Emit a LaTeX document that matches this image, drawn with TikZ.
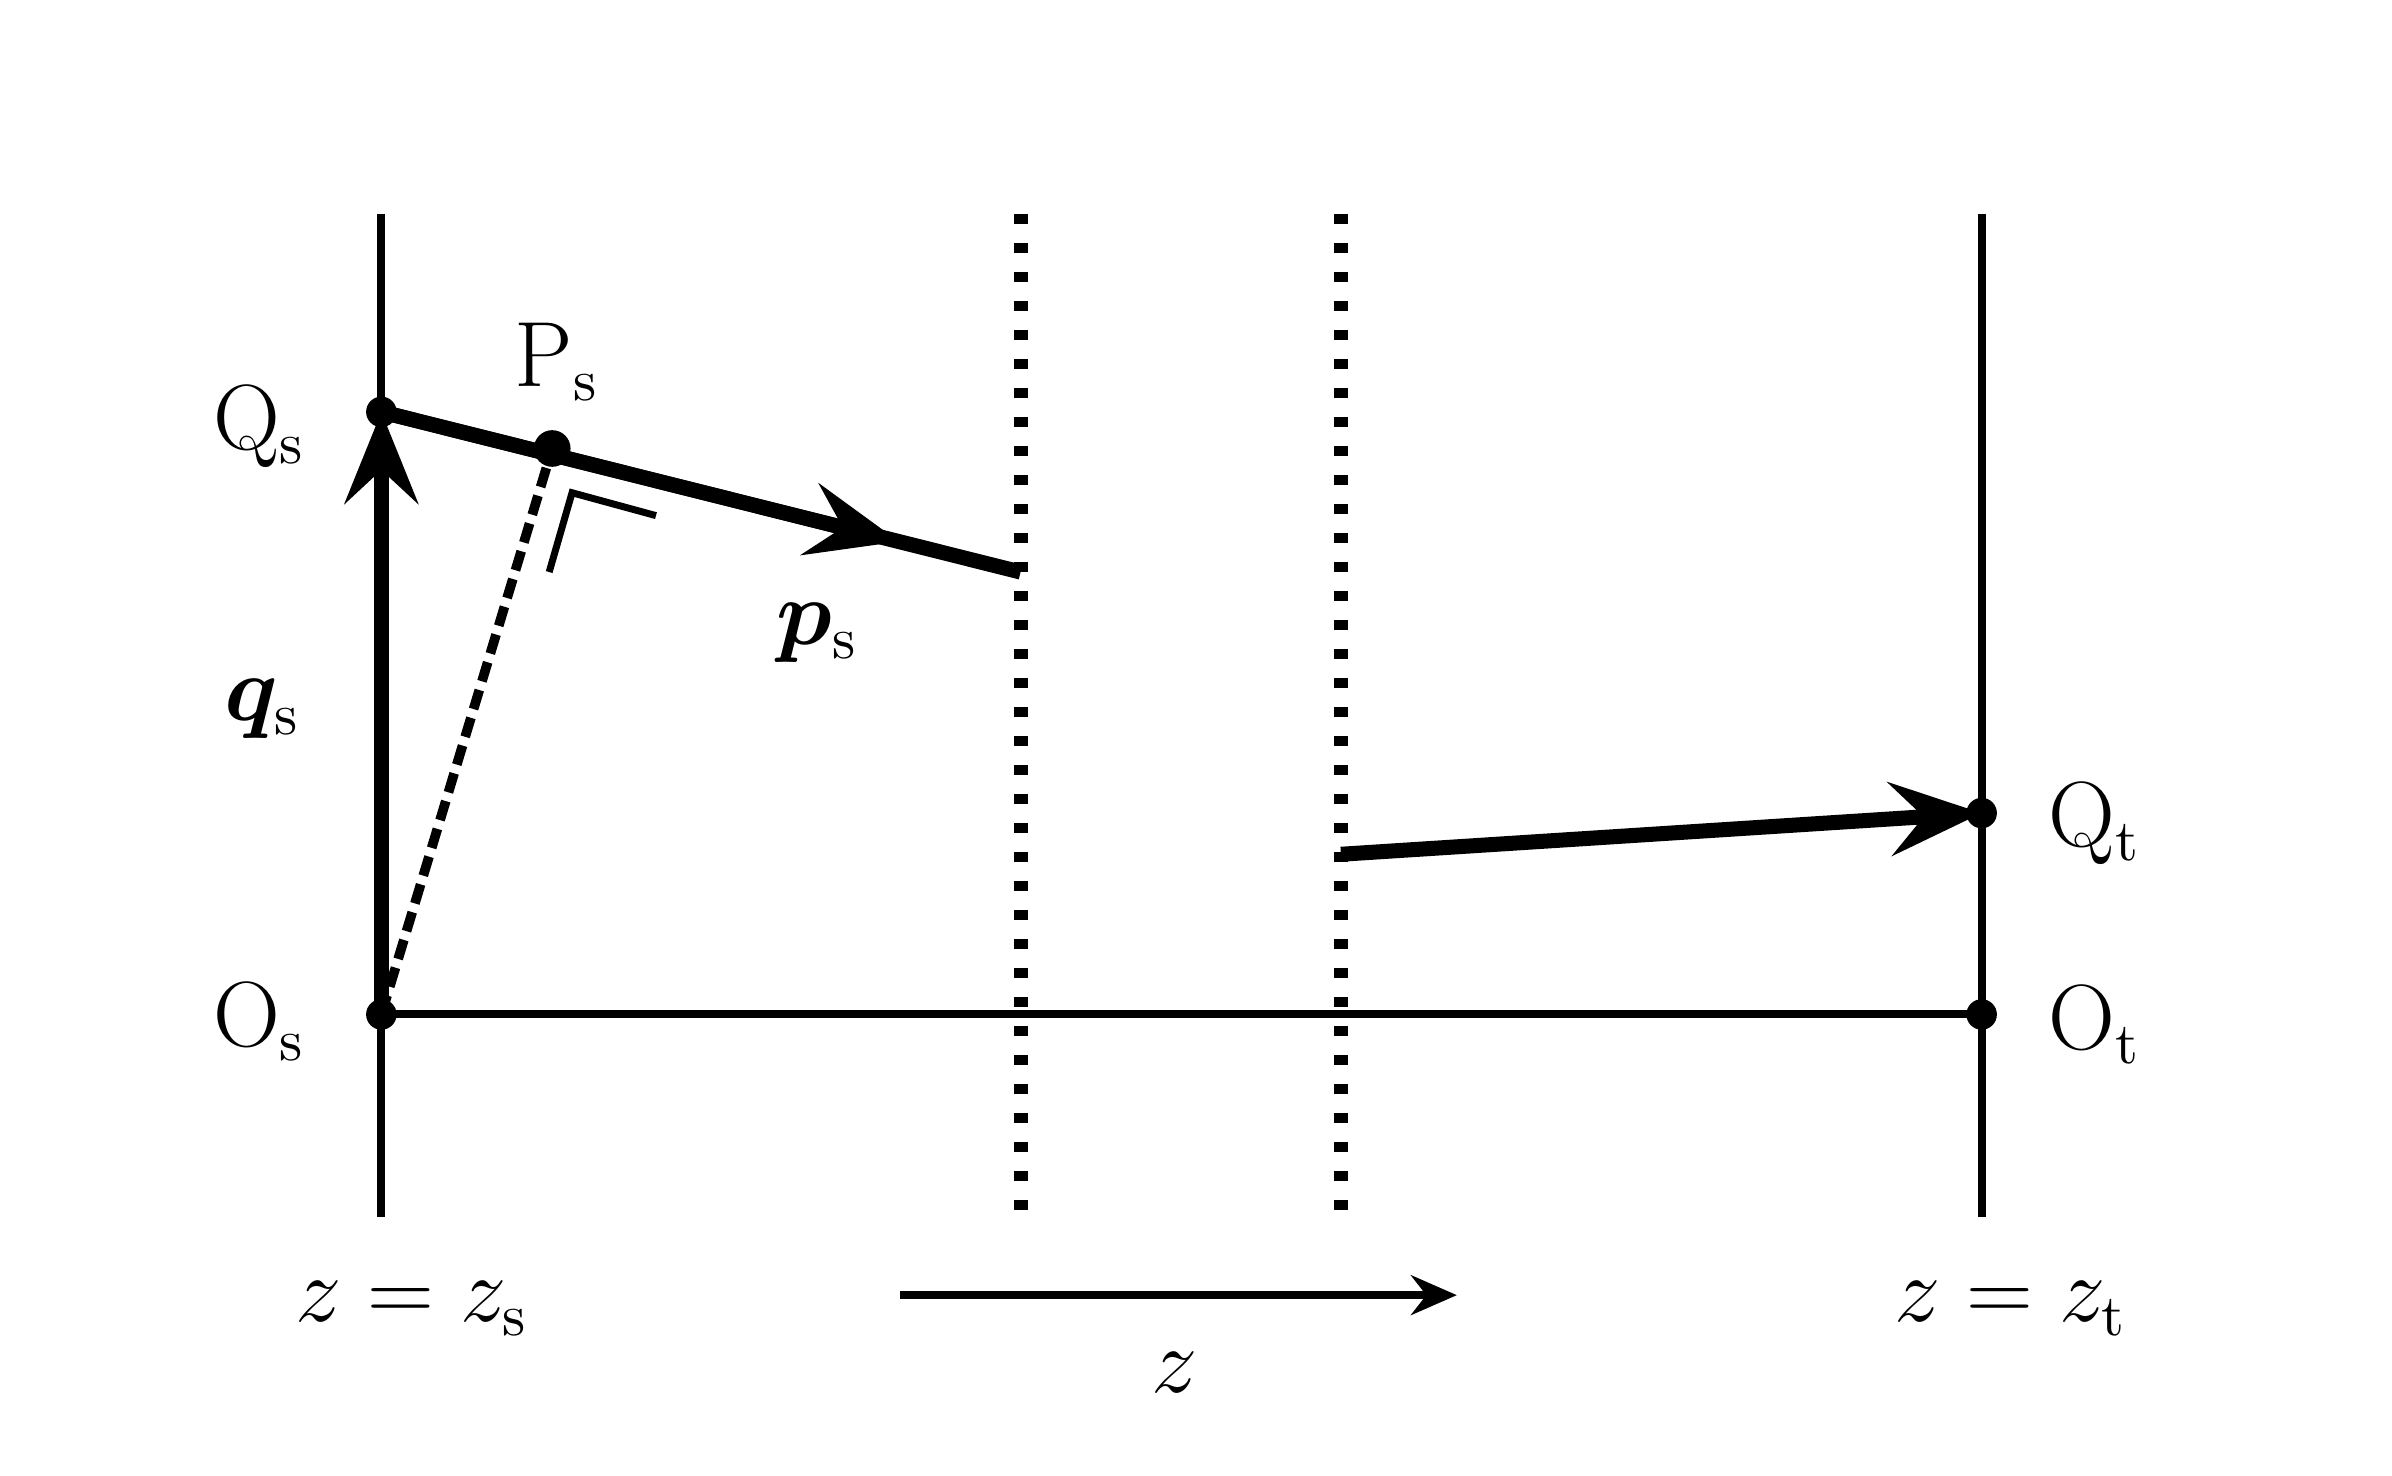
\documentclass[tikz,border=0pt]{standalone}
\usepackage{amsmath}
\usepackage{bm}
\usepackage{tikz}
\usetikzlibrary{positioning, arrows.meta, calc}

\begin{document}
\begin{tikzpicture}[
    x=0.01cm, y=-0.01cm,
    every node/.style={font=\fontsize{16}{19}\selectfont},
    guide/.style={line width=1.5pt},
    plane/.style={line width=2.6pt, dash pattern=on 0.07cm off 0.12cm},
    vec/.style={line width=2.8pt},
    arrow/.style={-{Stealth[length=6mm, width=4.8mm, inset=2.2mm]}, line width=2.8pt},
    foot/.style={line width=1.8pt, dash pattern=on 0.13cm off 0.06cm},
    dot/.style={circle, fill, inner sep=0pt, minimum size=2mm}
]
\useasboundingbox (0,0) rectangle (1568,967);

\coordinate (Os) at (250,665);
\coordinate (Qs) at (250,270);
\coordinate (Ps) at (362,294);
\coordinate (pe) at (669,375);
\coordinate (ts) at (879,560);
\coordinate (Qt) at (1299,533);
\coordinate (Ot) at (1299,665);

% source and target planes
\draw[guide] (250,140) -- (250,798);
\draw[guide] (1299,140) -- (1299,798);
\draw[plane] (669,140) -- (669,798);
\draw[plane] (879,140) -- (879,798);
\draw[guide] (Os) -- (Ot);

% rays
\draw[foot] (Os) -- (Ps);
\draw[line width=1.3pt] (360,375) -- (375,323) -- (430,338);
\draw[vec] (Qs) -- (pe);
\draw[arrow] (Qs) -- ($(Qs)!0.81!(pe)$);
\draw[arrow] (Os) -- (Qs);
\draw[arrow] (ts) -- (Qt);

\node[dot] at (Os) {};
\node[dot] at (Qs) {};
\node[dot, minimum size=2.4mm] at (Ps) {};
\node[dot] at (Qt) {};
\node[dot] at (Ot) {};

% labels
\node (lQs) at (170,280) {$\mathrm{Q}_\mathrm{s}$};
\node (lPs) at (365,237) {$\mathrm{P}_\mathrm{s}$};
\node (lqs) at (172,465) {$\bm{q}_\mathrm{s}$};
\node (lps) at (536,415) {$\bm{p}_\mathrm{s}$};
\node (lOs) at (170,670) {$\mathrm{O}_\mathrm{s}$};
\node (lQt) at (1373,540) {$\mathrm{Q}_\mathrm{t}$};
\node (lOt) at (1373,672) {$\mathrm{O}_\mathrm{t}$};
\node (lzs) at (270,858) {$z = z_\mathrm{s}$};
\node (lzt) at (1318,858) {$z = z_\mathrm{t}$};

% propagation direction
\coordinate (za) at (590,849);
\coordinate (zb) at (955,849);
\draw[-{Stealth[length=3mm, width=2.6mm, inset=1mm]}, line width=1.4pt] (za) -- (zb);
\node (lz) at (770,900) {$z$};
\end{tikzpicture}
\end{document}
